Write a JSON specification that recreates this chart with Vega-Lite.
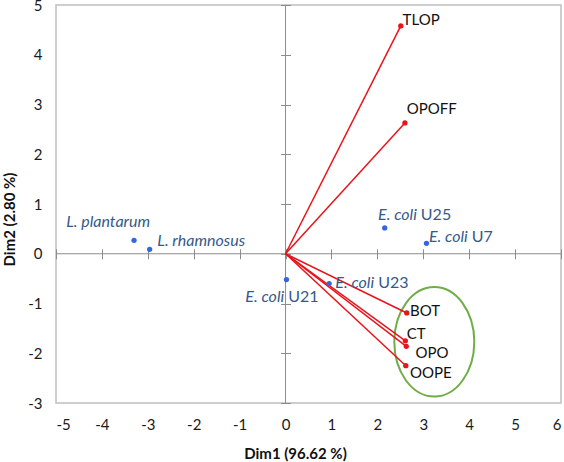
{
  "$schema": "https://vega.github.io/schema/vega-lite/v6.json",
  "width": 505,
  "height": 398,
  "autosize": {"type": "none"},
  "padding": {"left": 56, "top": 5, "right": 3, "bottom": 59},
  "background": "white",
  "config": {
    "view": {"stroke": "#BFBFBF", "strokeWidth": 1.5},
    "font": "Lato",
    "text": {"font": "Lato", "fontSize": 15}
  },
  "datasets": {
    "loadings": [
      {"name": "TLOP", "x": 2.51, "y": 4.58, "lx": 2.55, "ly": 4.70},
      {"name": "OPOFF", "x": 2.60, "y": 2.63, "lx": 2.64, "ly": 2.91},
      {"name": "BOT", "x": 2.64, "y": -1.19, "lx": 2.71, "ly": -1.16},
      {"name": "CT", "x": 2.61, "y": -1.75, "lx": 2.64, "ly": -1.61},
      {"name": "OPO", "x": 2.63, "y": -1.86, "lx": 2.83, "ly": -1.99},
      {"name": "OOPE", "x": 2.62, "y": -2.25, "lx": 2.71, "ly": -2.39}
    ],
    "strains": [
      {"name": "L. plantarum", "x": -3.30, "y": 0.27, "it": "L. plantarum", "pl": "", "lx": -2.95, "ly": 0.64},
      {"name": "L. rhamnosus", "x": -2.96, "y": 0.09, "it": "L. rhamnosus", "pl": "", "lx": -0.88, "ly": 0.26},
      {"name": "E. coli U25", "x": 2.16, "y": 0.52, "it": "E. coli", "pl": "U25", "lx": 2.86, "ly": 0.78},
      {"name": "E. coli U7", "x": 3.07, "y": 0.21, "it": "E. coli", "pl": "U7", "lx": 3.97, "ly": 0.34},
      {"name": "E. coli U21", "x": 0.02, "y": -0.52, "it": "E. coli", "pl": "U21", "lx": -0.03, "ly": -0.86},
      {"name": "E. coli U23", "x": 0.95, "y": -0.60, "it": "E. coli", "pl": "U23", "lx": 1.93, "ly": -0.59}
    ],
    "cluster": [
      {"cx": 3.24, "cy": -1.77}
    ]
  },
  "resolve": {"axis": {"x": "independent", "y": "independent"}},
  "layer": [
    {
      "data": {"values": [{}]},
      "mark": {"type": "rule", "color": "#8C8C8C", "strokeWidth": 1},
      "encoding": {
        "x": {"datum": 0, "type": "quantitative", "scale": {"domain": [-5, 6], "nice": false, "zero": false}, "axis": null}
      }
    },
    {
      "data": {"values": [{}]},
      "mark": {"type": "rule", "color": "#8C8C8C", "strokeWidth": 1},
      "encoding": {
        "y": {"datum": 0, "type": "quantitative", "scale": {"domain": [-3, 5], "nice": false, "zero": false}, "axis": null}
      }
    },
    {
      "data": {"name": "cluster"},
      "mark": {
        "type": "point",
        "filled": false,
        "stroke": "#70AD47",
        "strokeWidth": 2,
        "opacity": 1,
        "size": 6400,
        "shape": "M 1 0 C 1 0.7553 0.5523 1.3675 0 1.3675 C -0.5523 1.3675 -1 0.7553 -1 0 C -1 -0.7553 -0.5523 -1.3675 0 -1.3675 C 0.5523 -1.3675 1 -0.7553 1 0 Z"
      },
      "encoding": {
        "x": {"field": "cx", "type": "quantitative", "axis": null},
        "y": {"field": "cy", "type": "quantitative", "axis": null}
      }
    },
    {
      "data": {"name": "loadings"},
      "mark": {"type": "rule", "color": "#E8141B", "strokeWidth": 1.5},
      "encoding": {
        "x": {"field": "x", "type": "quantitative", "axis": null},
        "y": {"field": "y", "type": "quantitative", "axis": null},
        "x2": {"datum": 0},
        "y2": {"datum": 0}
      }
    },
    {
      "data": {"name": "loadings"},
      "mark": {"type": "point", "filled": true, "color": "#E8141B", "opacity": 1, "size": 28},
      "encoding": {
        "x": {
          "field": "x", "type": "quantitative",
          "axis": {
            "orient": "bottom", "offset": -154.25, "values": [-5, -4, -3, -2, -1, 0, 1, 2, 3, 4, 5, 6],
            "domain": false, "ticks": true, "tickSize": 10, "tickColor": "#8C8C8C", "tickWidth": 1,
            "labels": false, "grid": false, "title": null
          }
        },
        "y": {
          "field": "y", "type": "quantitative",
          "axis": {
            "orient": "left", "offset": -234.55, "values": [-3, -2, -1, 0, 1, 2, 3, 4, 5],
            "domain": false, "ticks": true, "tickSize": 10, "tickColor": "#8C8C8C", "tickWidth": 1,
            "labels": false, "grid": false, "title": null
          }
        }
      }
    },
    {
      "data": {"name": "strains"},
      "mark": {"type": "point", "filled": true, "color": "#3566E0", "opacity": 1, "size": 28},
      "encoding": {
        "x": {
          "field": "x", "type": "quantitative",
          "axis": {
            "orient": "bottom", "values": [-5, -4, -3, -2, -1, 0, 1, 2, 3, 4, 5, 6],
            "labelExpr": "'' + datum.value",
            "domain": false, "ticks": false, "grid": false, "labelPadding": 14,
            "labelFont": "Lato", "labelFontSize": 15, "labelColor": "#1A1A1A",
            "title": "Dim1 (96.62 %)", "titleFont": "Lato", "titleFontSize": 15, "titleFontWeight": "bold",
            "titleColor": "#111111", "titleX": 239, "titleY": 55, "titleBaseline": "alphabetic"
          }
        },
        "y": {
          "field": "y", "type": "quantitative",
          "axis": {
            "orient": "left", "values": [-3, -2, -1, 0, 1, 2, 3, 4, 5],
            "labelExpr": "'' + datum.value",
            "domain": false, "ticks": false, "grid": false, "labelPadding": 14,
            "labelFont": "Lato", "labelFontSize": 15, "labelColor": "#1A1A1A",
            "title": "Dim2 (2.80 %)", "titleFont": "Lato", "titleFontSize": 15, "titleFontWeight": "bold",
            "titleColor": "#111111", "titleX": -47, "titleY": 214, "titleBaseline": "middle", "titleAngle": -90
          }
        }
      }
    },
    {
      "data": {"name": "loadings"},
      "mark": {"type": "text", "align": "left", "baseline": "middle", "color": "#111111", "fontSize": 15},
      "encoding": {
        "x": {"field": "lx", "type": "quantitative", "axis": null},
        "y": {"field": "ly", "type": "quantitative", "axis": null},
        "text": {"field": "name"}
      }
    },
    {
      "data": {"name": "strains"},
      "mark": {"type": "text", "align": "right", "baseline": "middle", "color": "#345A8A", "fontSize": 16, "fontStyle": "italic"},
      "encoding": {
        "x": {"field": "lx", "type": "quantitative", "axis": null},
        "y": {"field": "ly", "type": "quantitative", "axis": null},
        "text": {"field": "it"}
      }
    },
    {
      "data": {"name": "strains"},
      "mark": {"type": "text", "align": "left", "baseline": "middle", "color": "#345A8A", "fontSize": 16, "dx": 4},
      "encoding": {
        "x": {"field": "lx", "type": "quantitative", "axis": null},
        "y": {"field": "ly", "type": "quantitative", "axis": null},
        "text": {"field": "pl"}
      }
    }
  ]
}
